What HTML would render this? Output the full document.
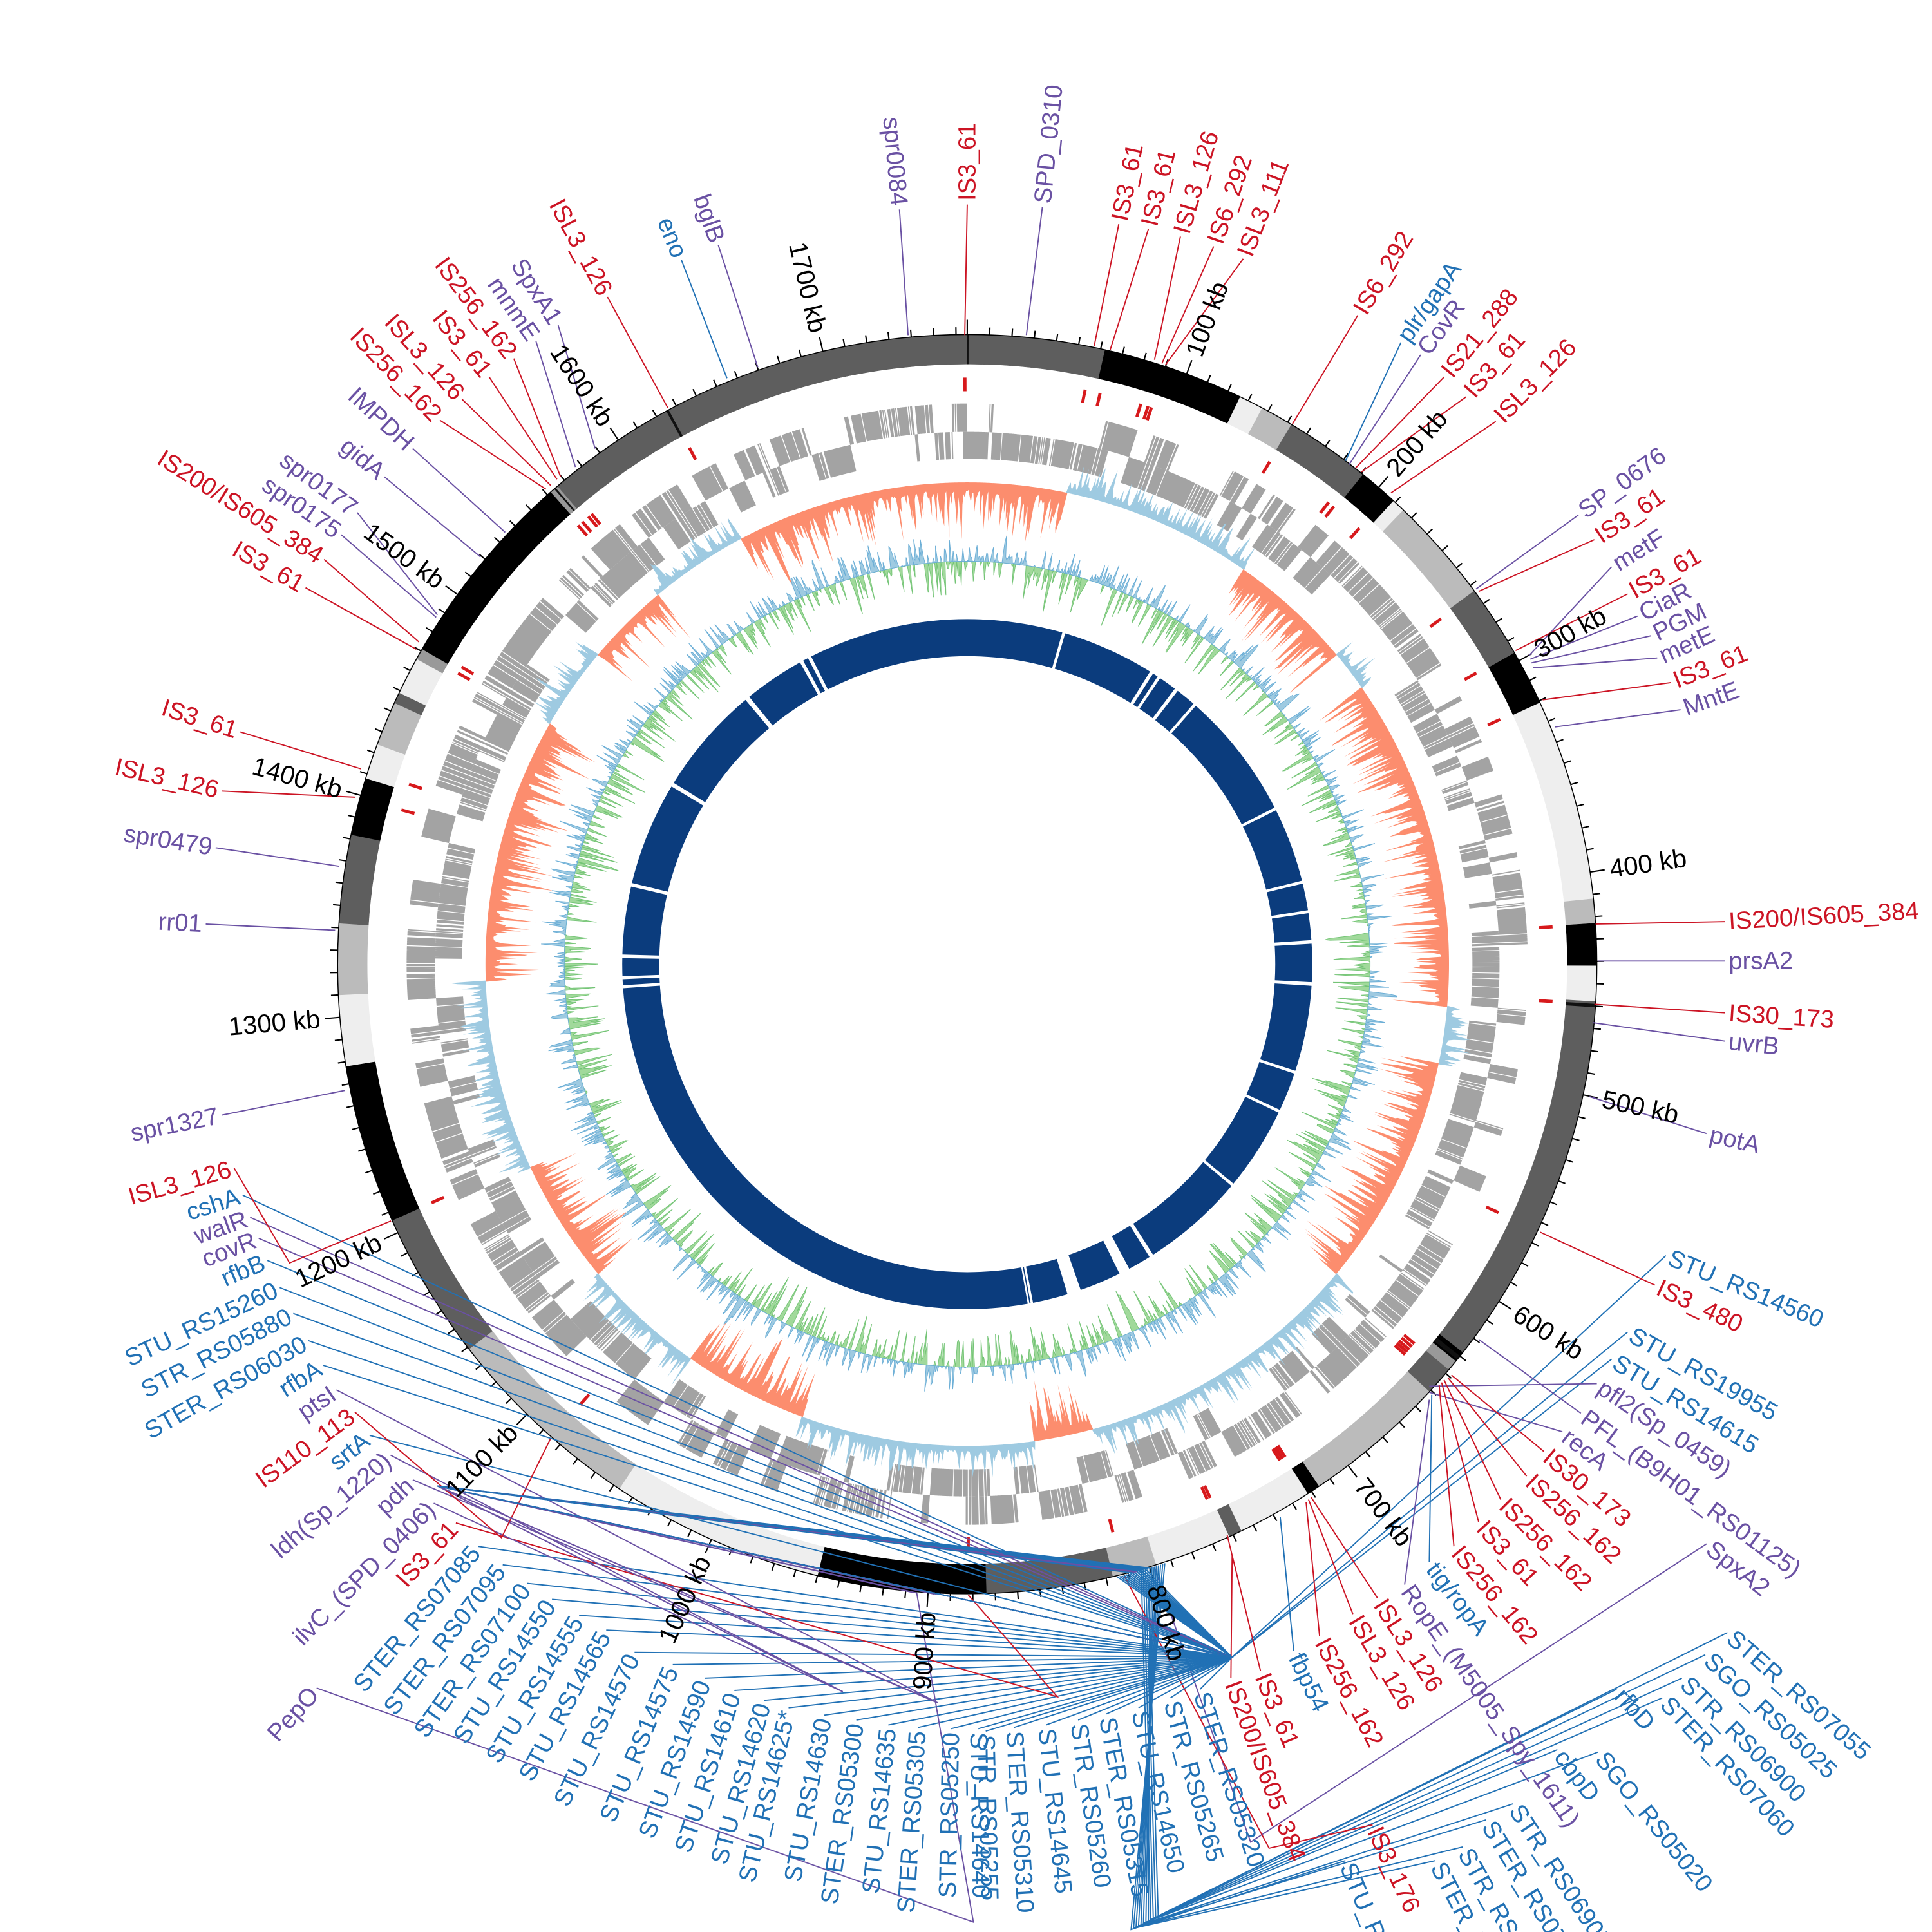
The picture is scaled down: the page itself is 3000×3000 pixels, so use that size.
<!DOCTYPE html>
<html><head><meta charset="utf-8">
<style>
html,body{margin:0;padding:0;background:#fff;overflow:hidden;width:3000px;height:3000px;}
svg{display:block;}
text{font-family:"Liberation Sans",sans-serif;}
</style></head>
<body>
<svg id="s" xmlns="http://www.w3.org/2000/svg" width="3000" height="3000" viewBox="0 0 1568 1568">
<rect width="1568" height="1568" fill="#fff"/>
<g id="tracks"></g>
<g id="lines" fill="none" stroke-width="1"></g>
<g id="labels" font-size="20"></g>
</svg>
<script>
(function(){
var NS="http://www.w3.org/2000/svg";
var cx=785,cy=782.5,TOT=1765;
function th(kb){return kb/TOT*360;}
function P(r,deg){var a=deg*Math.PI/180;return [cx+r*Math.sin(a),cy-r*Math.cos(a)];}
function el(tag,attrs,parent){var e=document.createElementNS(NS,tag);for(var k in attrs)e.setAttribute(k,attrs[k]);(parent||T).appendChild(e);return e;}
var T=document.getElementById('tracks'),LG=document.getElementById('lines'),TG=document.getElementById('labels');
function f(v){return v.toFixed(2);}
function sector(r1,r2,a1,a2){
 var p1=P(r2,a1),p2=P(r2,a2),p3=P(r1,a2),p4=P(r1,a1),lg=(a2-a1)>180?1:0;
 return "M"+f(p1[0])+","+f(p1[1])+"A"+r2+","+r2+" 0 "+lg+" 1 "+f(p2[0])+","+f(p2[1])+"L"+f(p3[0])+","+f(p3[1])+"A"+r1+","+r1+" 0 "+lg+" 0 "+f(p4[0])+","+f(p4[1])+"Z";
}
var seed=12345;function rnd(){seed=(seed*1103515245+12345)&0x7fffffff;return seed/0x7fffffff;}

var segs=[[0,62,'#5e5e5e'],[62,126,'#000'],[126,137,'#eee'],[137,152,'#bbb'],[152,191,'#5e5e5e'],[191,209,'#000'],[209,215,'#eee'],[215,263,'#bbb'],[263,296,'#5e5e5e'],[296,321,'#000'],[321,412,'#eee'],[412,423,'#bbb'],[423,442,'#000'],[442,458,'#eee'],[458,628,'#5e5e5e'],[628,633,'#000'],[633,638,'#999'],[638,651,'#5e5e5e'],[651,716,'#bbb'],[716,722,'#000'],[722,756,'#eee'],[756,762,'#5e5e5e'],[762,797,'#eee'],[797,817,'#bbb'],[817,874,'#5e5e5e'],[874,950,'#000'],[950,1047,'#eee'],[1047,1139,'#bbb'],[1139,1206,'#5e5e5e'],[1206,1278,'#000'],[1278,1310,'#eee'],[1310,1342,'#bbb'],[1342,1382,'#5e5e5e'],[1382,1408,'#000'],[1408,1424,'#eee'],[1424,1444,'#bbb'],[1444,1449,'#5e5e5e'],[1449,1466,'#eee'],[1466,1471,'#999'],[1471,1562,'#000'],[1562,1566,'#999'],[1566,1765,'#5e5e5e']];
segs.forEach(function(s){el('path',{d:sector(487,511,th(s[0]),th(s[1])),fill:s[2],stroke:s[2],'stroke-width':0.3});});
[[0,0.6],[1625,1.2],[1564,0.8],[459,1.5],[630,2]].forEach(function(s){el('path',{d:sector(487,511,th(s[0]),th(s[0]+s[1])),fill:'#111'});});
el('circle',{cx:cx,cy:cy,r:511,fill:'none',stroke:'#000','stroke-width':0.8});
var tk="";for(var k=0;k<TOT;k+=10){var L=(k%100==0)?523:517;var a=P(511,th(k)),b=P(L,th(k));tk+="M"+f(a[0])+","+f(a[1])+"L"+f(b[0])+","+f(b[1]);}
el('path',{d:tk,stroke:'#000','stroke-width':1.1,fill:'none'});
for(var k=100;k<=1700;k+=100){var t=th(k);var p=P(527,t);var right=t<180;
 var tx=el('text',{x:0,y:0,transform:"translate("+f(p[0])+","+f(p[1])+") rotate("+f(right?t-90:t+90)+")",'text-anchor':right?'start':'end','dominant-baseline':'central','font-size':21,fill:'#000'},TG);
 tx.textContent=k+" kb";}

/* gene track */
var dO="",dI="",N=3530,i=0;
while(i<N){var len=3+Math.floor(rnd()*rnd()*50);var lane=rnd();var dens=0.75+rnd()*0.25;
 for(var j=0;j<len&&i<N;j++,i++){if(rnd()>dens)continue;var t=i*360/N;
  if(lane<0.45||lane>0.88){var a=P(432,t),b=P(455,t);dO+="M"+f(a[0])+","+f(a[1])+"L"+f(b[0])+","+f(b[1]);}
  if(lane>=0.45){var a=P(410,t),b=P(432,t);dI+="M"+f(a[0])+","+f(a[1])+"L"+f(b[0])+","+f(b[1]);}
 }}
el('path',{d:dO,stroke:'#a3a3a3','stroke-width':0.9,fill:'none'});
el('path',{d:dI,stroke:'#a3a3a3','stroke-width':0.9,fill:'none'});

/* GC skew */
var regs=[[0,12,1],[12,35,-1],[35,50,1],[50,55,-1],[55,95,1],[95,102,-1],[102,110,1],[110,130,1],[130,165,-1],[165,172,1],[172,200,-1],[200,215,1],[215,230,-1],[230,245,1],[245,268,-1],[268,300,1],[300,310,-1],[310,320,1],[320,332,-1],[332,360,1]];
function sign(t){for(var q=0;q<regs.length;q++)if(t>=regs[q][0]&&t<regs[q][1])return regs[q][2];return 1;}
var M=2400,base=391,orP=[],blP=[],prev=0.2;
for(var q=0;q<=M;q++){var t=q*360/M;var v=rnd();v=0.1+0.9*v*v*v;v=0.75*v+0.25*prev;prev=v;var s=sign(t);
 var ro=s>0?base-v*58:base, rb=s<0?base+v*32:base;
 orP.push(P(ro,t));blP.push(P(rb,t));}
function areaPath(pts,r,MM){var d="M";for(var q=0;q<pts.length;q++)d+=f(pts[q][0])+","+f(pts[q][1])+" ";for(var q=pts.length-1;q>=0;q--){var p=P(r,q*360/MM);d+=f(p[0])+","+f(p[1])+" ";}return d+"Z";}
el('path',{d:areaPath(orP,base,M),fill:'#fc8d6e',stroke:'none'});
el('path',{d:areaPath(blP,base,M),fill:'#9ecae1',stroke:'none'});
/* GC content */
var gb=327,gP=[],bP=[];prev=0;
for(var q=0;q<=M;q++){var v=(rnd()-0.5)*2;v=v*Math.abs(v);v=0.7*v+0.3*prev;prev=v;
 gP.push(P(v>0?gb-v*40:gb,q*360/M));bP.push(P(v<0?gb-v*28:gb,q*360/M));}
el('path',{d:areaPath(gP,gb,M),fill:'#a1d99b',stroke:'#74c476','stroke-width':0.5});
el('path',{d:areaPath(bP,gb,M),fill:'#9ecae1',stroke:'#6baed6','stroke-width':0.5});

/* inner ring */
el('path',{d:sector(250,280,0,180),fill:'#0b3c7d'});el('path',{d:sector(250,280,180,360),fill:'#0b3c7d'});
[[16,0.5],[32,0.6],[33.5,0.5],[37,0.6],[41,0.5],[63,0.5],[76,0.5],[81,0.5],[86,0.6],[93,0.6],[108,0.5],[115,0.5],[129.5,0.5],[147.4,0.7],[152,1.8],[160.8,2.3],[169,0.4],[169.6,0.3],[266,0.5],[267.5,0.5],[271,0.6],[283,0.6],[301,0.7],[320,0.8],[331,0.6],[332.5,0.6]].forEach(function(g){el('path',{d:sector(248,282,g[0],g[0]+g[1]),fill:'#fff'});});

/* labels */
var R='#cc1424',Pu='#6a51a3',B='#2171b5';
var HUB=[1000,1345],LH=[355,1206];
var L=[
['IS3_61',R,785,166,[783,272]],['SPD_0310',Pu,846,168,[833,272]],['spr0084',Pu,730,170,[737,272]],
['IS3_61',R,908,182,[888,281]],['IS3_61',R,932,186,[901,284]],['ISL3_126',R,958,192,[937,292]],['IS6_292',R,985,200,[943,295]],['ISL3_111',R,1009,210,[946,296]],
['IS6_292',R,1102,256,[1049,344]],['plr/gapA',B,1137,278,[1092,374]],['CovR',Pu,1153,288,[1095,377]],['IS21_288',R,1172,306,[1100,380]],['IS3_61',R,1190,322,[1105,383]],['ISL3_126',R,1214,342,[1129,400]],
['SP_0676',Pu,1281,418,[1198,478]],['IS3_61',R,1294,438,[1200,480]],['metF',Pu,1308,460,[1241,532]],['IS3_61',R,1321,482,[1230,528]],['CiaR',Pu,1329,500,[1242,535]],['PGM',Pu,1340,516,[1243,538]],['metE',Pu,1345,534,[1244,542]],['IS3_61',R,1356,554,[1252,568]],['MntE',Pu,1364,576,[1262,590]],
['IS200/IS605_384',R,1400,748,[1295,750]],['prsA2',Pu,1400,780,[1297,780]],['IS30_173',R,1400,822,[1294,815]],['uvrB',Pu,1400,845,[1293,830]],['potA',Pu,1385,920,[1290,890]],
['STU_RS14560',B,1352,1019,['h',[HUB],805]],['IS3_480',R,1343,1043,[1250,1000]],['STU_RS19955',B,1321,1081,['h',[HUB],806]],['STU_RS14615',B,1308,1103,['h',[HUB],807]],
['pfl2(Sp_0459)',Pu,1296,1123,[1160,1125]],['PFL_(B9H01_RS01125)',Pu,1283,1147,[1200,1087]],['recA',Pu,1268,1162,[1160,1130]],
['IS30_173',R,1253,1178,[1178,1116]],['IS256_162',R,1239,1198,[1175,1118]],['IS256_162',R,1218,1217,[1172,1120]],['IS3_61',R,1200,1235,[1170,1122]],['IS256_162',R,1180,1255,[1168,1124]],
['tig/ropA',B,1160,1268,[1162,1132]],['RopE_(M5005_Spy_1611)',Pu,1140,1286,[1160,1136]],['ISL3_126',R,1118,1297,[1064,1215]],['ISL3_126',R,1098,1310,[1062,1217]],['IS256_162',R,1071,1328,[1060,1219]],
['fbp54',B,1050,1340,[1039,1231]],['IS3_61',R,1023,1356,[996,1246]],['IS200/IS605_384',R,999,1362,[1000,1262]],['SpxA2',Pu,1385,1253,['h',[[1015,1495]],798]],
['STER_RS07055',B,1402,1325,['h',[[940,1555]],801]],['SGO_RS05025',B,1384,1343,['h',[[938,1556]],802]],['STR_RS06900',B,1365,1362,['h',[[936,1557]],803]],['STER_RS07060',B,1349,1378,['h',[[934,1558]],804]],['rfbD',B,1312,1371,['h',[[932,1559]],800]],['SGO_RS05020',B,1297,1422,['h',[[930,1560]],799]],['cbpD',B,1264,1420,['h',[[928,1561]],798]],
['STR_RS06905',B,1228,1464,['h',[[926,1562]],797]],['STER_RS07045',B,1206,1477,['h',[[924,1563]],796]],['STR_RS06895',B,1187,1499,['h',[[922,1564]],795]],['STER_RS07050',B,1165,1510,['h',[[920,1565]],794]],['IS3_176',R,1114,1481,['h',[[1030,1500]],812]],['STU_RS14655',B,1092,1510,['h',[[918,1566]],793]],
['STER_RS05320',B,974,1371,['h',[HUB],808]],['STR_RS05265',B,950,1378,['h',[HUB],809]],['STU_RS14650',B,924,1386,['h',[HUB],810]],['STER_RS05315',B,898,1391,['h',[HUB],811]],['STR_RS05260',B,875,1396,['h',[HUB],812]],['STU_RS14645',B,849,1400,['h',[HUB],813]],['STER_RS05310',B,823,1402,['h',[HUB],814]],['STR_RS05255',B,800,1405,['h',[HUB],815]],
['STU_RS14640',B,794,1403,['h',[HUB],806]],['STR_RS05250',B,772,1403,['h',[HUB],807]],['STER_RS05305',B,745,1402,['h',[HUB],808]],['STU_RS14635',B,721,1400,['h',[HUB],809]],['STER_RS05300',B,695,1396,['h',[HUB],810]],['STU_RS14630',B,669,1392,['h',[HUB],811]],['STU_RS14625*',B,640,1386,['h',[HUB],812]],['STU_RS14620',B,620,1380,['h',[HUB],813]],['STU_RS14610',B,596,1372,['h',[HUB],802]],['STU_RS14590',B,572,1362,['h',[HUB],803]],['STU_RS14575',B,546,1351,['h',[HUB],804]],
['STU_RS14570',B,515,1341,['h',[HUB],805]],['STU_RS14565',B,492,1323,['h',[HUB],806]],['STU_RS14555',B,470,1311,['h',[HUB],807]],['STU_RS14550',B,448,1298,['h',[HUB],808]],['STER_RS07100',B,428,1285,['h',[HUB],809]],['STER_RS07095',B,408,1270,['h',[HUB],810]],['STER_RS07085',B,388,1255,['h',[HUB],811]],
['IS3_61',R,370,1236,['h',[[858,1377]],882]],['ilvC_(SPD_0406)',Pu,352,1220,['h',[LH,[684,1373]],905]],['pdh',Pu,335,1201,['h',[LH,[761,1382]],896]],['ldh(Sp_1220)',Pu,317,1181,['h',[LH,[684,1373]],906]],
['srtA',B,300,1165,['h',[LH,HUB],800]],['IS110_113',R,288,1146,['h',[[407,1248]],1085]],['ptsI',Pu,273,1128,['h',[LH,[761,1382]],897]],['rfbA',B,262,1108,['h',[LH,HUB],801]],
['STER_RS06030',B,250,1088,['h',[LH,HUB],802]],['STR_RS05880',B,238,1066,['h',[LH,HUB],803]],['STU_RS15260',B,227,1045,['h',[LH,HUB],804]],['rfbB',B,217,1023,['h',[LH,HUB],805]],
['covR',Pu,210,1005,['h',[LH,HUB],806]],['walR',Pu,203,988,['h',[LH,HUB],807]],['cshA',B,197,970,['h',[LH,HUB],808]],['ISL3_126',R,190,948,['h',[[235,1025]],1206]],
['PepO',Pu,257,1370,['h',[[790,1560]],905]],
['spr1327',Pu,180,905,[280,885]],['rr01',Pu,167,750,[272,755]],['spr0479',Pu,175,688,[275,703]],['ISL3_126',R,180,642,[288,647]],['IS3_61',R,195,594,[293,624]],
['IS3_61',R,248,477,[338,527]],['IS200/IS605_384',R,263,454,[340,521]],['spr0175',Pu,277,434,[354,501]],['spr0177',Pu,290,416,[355,499]],['gidA',Pu,312,387,[390,452]],['IMPDH',Pu,335,364,[410,432]],
['IS256_162',R,357,341,[443,397]],['ISL3_126',R,375,324,[447,394]],['IS3_61',R,397,306,[452,389]],['IS256_162',R,417,291,[455,387]],['mnmE',Pu,435,277,[467,379]],['SpxA1',Pu,453,264,[483,364]],
['ISL3_126',R,493,241,[542,331]],['eno',B,553,211,[590,307]],['bglB',Pu,583,199,[615,298]]
];
var dashes="";
L.forEach(function(l){
 var lx=l[2],ly=l[3],ft=l[4],pts=[];
 if(ft[0]==='h'){var t=th(ft[2]);var a=P(512,t);pts.push(a);ft[1].forEach(function(h){pts.push(h);});}
 else pts.push(ft);
 pts.push([lx,ly]);
 var d="M"+pts.map(function(p){return f(p[0])+","+f(p[1]);}).join("L");
 el('path',{d:d,stroke:l[1],'stroke-width':1},LG);
 if(l[1]===R){var fp=pts[0];var t=Math.atan2(fp[0]-cx,-(fp[1]-cy))*180/Math.PI;var a=P(465,t),b=P(476,t);dashes+="M"+f(a[0])+","+f(a[1])+"L"+f(b[0])+","+f(b[1]);}
 var dx=lx-cx,dy=ly-cy;var tdeg=Math.atan2(dx,-dy)*180/Math.PI;if(tdeg<0)tdeg+=360;
 var right=tdeg<180;var a=tdeg*Math.PI/180;var ox=lx+3*Math.sin(a),oy=ly-3*Math.cos(a);
 var tx=el('text',{x:0,y:0,transform:"translate("+f(ox)+","+f(oy)+") rotate("+f(right?tdeg-90:tdeg+90)+")",'text-anchor':right?'start':'end','dominant-baseline':'central',fill:l[1]},TG);
 tx.textContent=l[0];
});
el('path',{d:dashes,stroke:'#d7191c','stroke-width':2.5,fill:'none'});
})();
</script>
</body></html>
